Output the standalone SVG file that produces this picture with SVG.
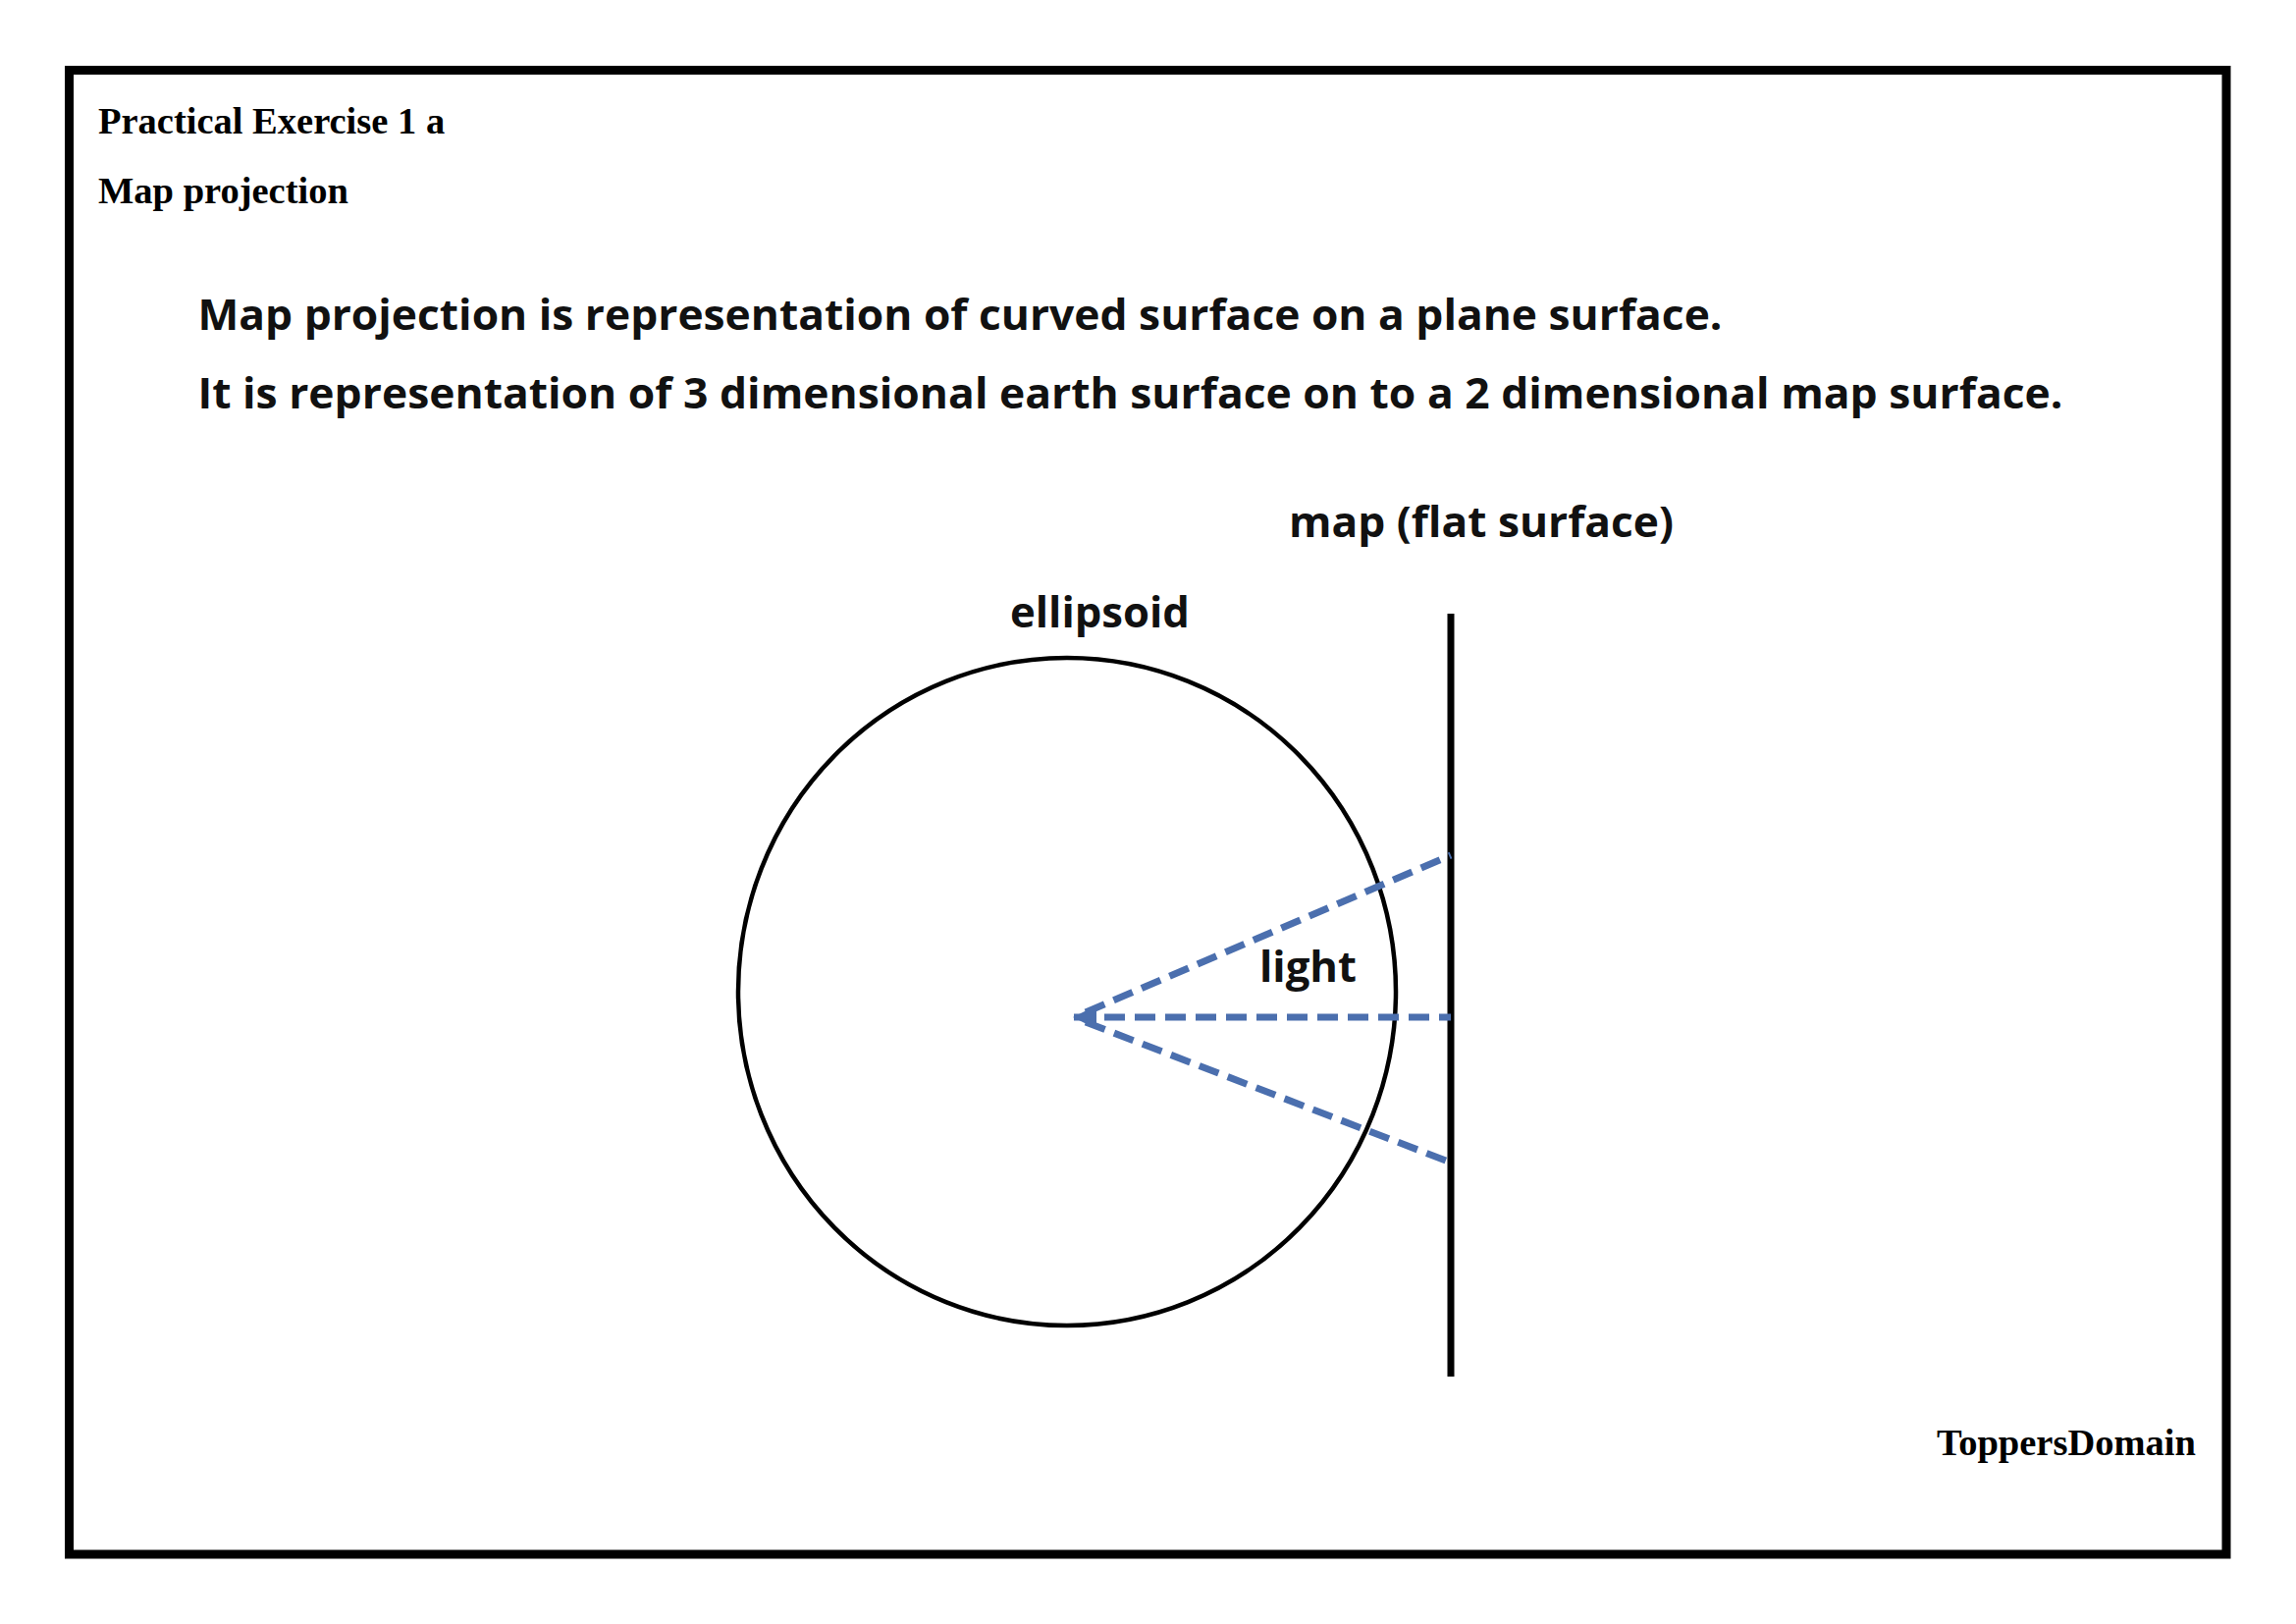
<svg xmlns="http://www.w3.org/2000/svg" width="2339" height="1654" viewBox="0 0 2339 1654">
  <style>
    .serif { font-family: "Liberation Serif", "Times New Roman", serif; font-weight: bold; font-size: 38.5px; fill: #000; }
    .sans { font-family: "Open Sans", "Noto Sans", "DejaVu Sans", sans-serif; font-weight: bold; fill: #111; }
    .body { font-size: 42.5px; }
    .label { font-size: 43px; }
    .ray { stroke: #4B6FAE; stroke-width: 7; stroke-dasharray: 21 10; fill: none; }
  </style>
  <defs>
    <marker id="tip" markerUnits="userSpaceOnUse" viewBox="0 0 24 24" markerWidth="24" markerHeight="24" refX="23" refY="12" orient="auto-start-reverse">
      <path d="M0,0 L24,12 L0,24 z" fill="#4B6FAE"/>
    </marker>
  </defs>
  <rect width="2339" height="1654" fill="#fff"/>
  <rect id="frame" x="70.5" y="71.5" width="2197.5" height="1511.5" fill="none" stroke="#000" stroke-width="9"/>

  <g id="header">
    <text class="serif" x="100" y="136">Practical Exercise 1 a</text>
    <text class="serif" x="100" y="206.5">Map projection</text>
  </g>

  <g id="definition">
    <text class="sans body" x="201.5" y="335.5" textLength="1553" lengthAdjust="spacingAndGlyphs">Map projection is representation of curved surface on a plane surface.</text>
    <text class="sans body" x="201.5" y="415.5" textLength="1900" lengthAdjust="spacingAndGlyphs">It is representation of 3 dimensional earth surface on to a 2 dimensional map surface.</text>
  </g>

  <g id="ellipsoid">
    <ellipse cx="1087" cy="1010" rx="335" ry="340" fill="none" stroke="#000" stroke-width="4.5"/>
    <text class="sans label" x="1029" y="639" textLength="183" lengthAdjust="spacingAndGlyphs">ellipsoid</text>
  </g>

  <g id="map">
    <line x1="1478" y1="625" x2="1478" y2="1402" stroke="#000" stroke-width="7"/>
    <text class="sans label" x="1313" y="547" textLength="392" lengthAdjust="spacingAndGlyphs">map (flat surface)</text>
  </g>

  <g id="connectors">
    <line class="ray" x1="1106" y1="1031" x2="1478" y2="871"/>
    <line class="ray" x1="1094" y1="1036" x2="1478" y2="1036" marker-start="url(#tip)"/>
    <line class="ray" x1="1106" y1="1041" x2="1478" y2="1184"/>
  </g>

  <g id="light">
    <text class="sans label" x="1283" y="1000" textLength="99" lengthAdjust="spacingAndGlyphs">light</text>
  </g>

  <g id="footer">
    <text class="serif" x="1973" y="1481.5">ToppersDomain</text>
  </g>
</svg>
